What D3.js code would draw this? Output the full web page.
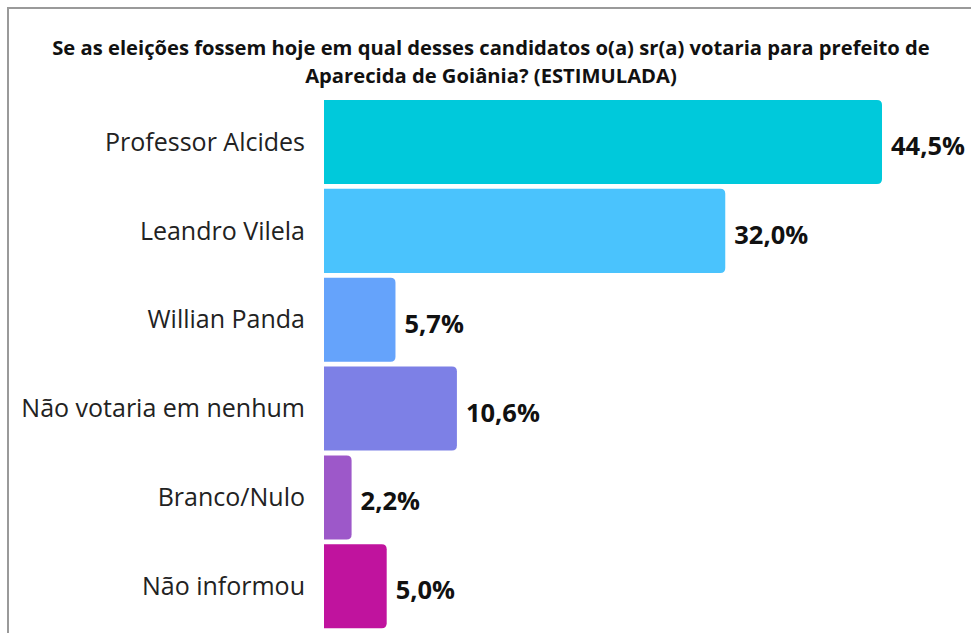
<!doctype html>
<html lang="pt">
<head>
  <meta charset="utf-8">
  <script src="https://d3js.org/d3.v7.min.js"></script>
  <style>
    body { margin: 0; background: #fff; }
    text { font-family: "Open Sans", "Noto Sans", sans-serif; }
  </style>
</head>
<body>
  <script>
    // chart data
    var categories = ["Professor Alcides", "Leandro Vilela", "Willian Panda",
                      "Não votaria em nenhum", "Branco/Nulo", "Não informou"];
    var values = [44.5, 32.0, 5.7, 10.6, 2.2, 5.0];
    var colors = ["#00c9db", "#4ac3fd", "#65a3fb", "#7d80e6", "#9d58c9", "#c0139e"];
    var titleLines = ["Se as eleições fossem hoje em qual desses candidatos o(a) sr(a) votaria para prefeito de",
                      "Aparecida de Goiânia? (ESTIMULADA)"];

    var width = 971, height = 633;

    var svg = d3.select("body").append("svg")
        .attr("width", width)
        .attr("height", height);

    // frame (only top and left edges are visible)
    svg.append("rect")
        .attr("x", 8).attr("y", 8)
        .attr("width", width + 20).attr("height", height + 20)
        .style("fill", "none")
        .style("stroke", "#9a9a9a")
        .style("stroke-width", 2);

    // title
    svg.append("g").selectAll("text")
        .data(titleLines)
      .enter().append("text")
        .attr("x", 491)
        .attr("y", function(d, i) { return 55 + i * 28; })
        .attr("text-anchor", "middle")
        .style("font-size", "20.2px")
        .style("font-weight", "bold")
        .style("fill", "#111")
        .text(function(d) { return d; });

    var x = d3.scaleLinear()
        .domain([0, 44.5])
        .range([324, 882]);

    var y = d3.scaleBand()
        .domain(categories)
        .range([97.6, 630.7])
        .paddingInner(0.054)
        .paddingOuter(0.027);

    var r = 5;
    function barPath(d, i) {
      var x0 = x(0), x1 = x(values[i]), y0 = y(d), y1 = y0 + y.bandwidth();
      return "M" + x0 + "," + y0 +
             "H" + (x1 - r) +
             "Q" + x1 + "," + y0 + " " + x1 + "," + (y0 + r) +
             "V" + (y1 - r) +
             "Q" + x1 + "," + y1 + " " + (x1 - r) + "," + y1 +
             "H" + x0 + "Z";
    }

    svg.append("g").selectAll("path")
        .data(categories)
      .enter().append("path")
        .attr("d", barPath)
        .style("fill", function(d, i) { return colors[i]; });

    // category labels
    svg.append("g").selectAll("text")
        .data(categories)
      .enter().append("text")
        .attr("x", 305)
        .attr("y", function(d) { return y(d) + y.bandwidth() / 2; })
        .attr("dy", "0.35em")
        .attr("text-anchor", "end")
        .style("font-size", "25px")
        .style("fill", "#222")
        .text(function(d) { return d; });

    // value labels
    svg.append("g").selectAll("text")
        .data(categories)
      .enter().append("text")
        .attr("x", function(d, i) { return x(values[i]) + 9; })
        .attr("y", function(d) { return y(d) + y.bandwidth() / 2 + 4; })
        .attr("dy", "0.35em")
        .style("font-size", "25.5px")
        .style("font-weight", "bold")
        .style("fill", "#111")
        .text(function(d, i) { return d3.format(".1f")(values[i]).replace(".", ",") + "%"; });
  </script>
</body>
</html>
